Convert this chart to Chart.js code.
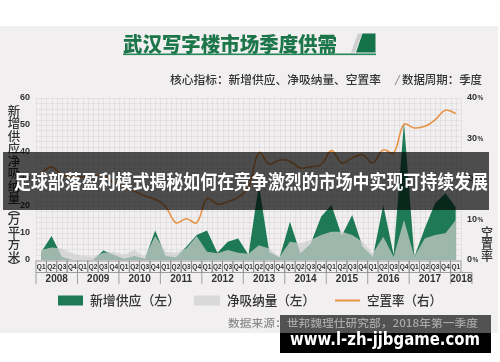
<!DOCTYPE html>
<html>
<head>
<meta charset="utf-8">
<script src="https://cdn.jsdelivr.net/npm/chart.js@4.4.1/dist/chart.umd.min.js"></script>
<style>
  html, body { margin: 0; padding: 0; background: #fff; overflow: hidden; }
  canvas { display: block; }
</style>
</head>
<body>
<canvas id="myChart" width="500" height="362"></canvas>
<script>
// data
const years = ['2008', '2009', '2010', '2011', '2012', '2013', '2014', '2015', '2016', '2017', '2018'];
const quarters = ['Q1', 'Q2', 'Q3', 'Q4'];

// 新增供应 (万平方米), 2008Q1 .. 2018Q1
const supply = [3, 8.9, 1.2, 0, 0, 0, 3.5, 1.9, 0.5, 1.5, 0.5, 10.9,
  1.5, 1, 4.9, 9.3, 10.9, 2.7, 6.8, 8, 1.9, 28, 3, 0.9,
  14.2, 2.5, 6, 16, 20.4, 9, 16.7, 5, 1.2, 20.4, 1.9, 51,
  1.2, 11.7, 21, 24.7, 19.5];
// 净吸纳量 (万平方米)
const absorption = [3.7, 4.6, 4.3, 2.5, 1.5, 1.2, 2.7, 3.1, 1.9, 3.7, 1.2, 8.9,
  3.1, 2.7, 4.3, 8.9, 3.1, 2.5, 3.7, 2.7, 2.3, 5.5, 4.3, 1.2,
  6.8, 6.2, 7.4, 9.3, 10.5, 10.5, 9.3, 6.8, 2.5, 8.6, 1.2, 14.8,
  1.2, 8, 9.3, 9.9, 14.8];
// 空置率 (%)
const vacancy = [21.5, 23, 21, 20.5, 20.5, 20.5, 21, 19, 18, 17, 15.8, 15,
  13.2, 9.2, 10.2, 9.2, 15.2, 13.8, 14.4, 15.5, 18, 26.5, 23.7, 24.7,
  24.4, 22.7, 23, 23.5, 27, 24, 25.2, 26, 24, 27.2, 26.4, 33.5,
  32.6, 33, 34.6, 37, 36.2];

const leftTicks = [0, 10, 20, 30, 40, 50, 60];
const rightTicks = [0, 10, 20, 30, 40];

const leftTitle = ['新', '增', '供', '应', '净', '吸', '纳', '量', '︵', '万', '平', '方', '米', '︶'];
const rightTitle = ['空', '置', '率'];

const labels = [];
years.forEach(function (yr) {
  let n = yr === '2018' ? 1 : 4;
  for (let q = 0; q < n; q++) labels.push(quarters[q]);
});

const GREEN = 'rgb(30,122,86)';
const GREY = 'rgba(206,206,206,0.72)';
const ORANGE = 'rgb(232,146,70)';
const CJK = '"Noto Sans CJK SC", "Noto Sans", sans-serif';
const NARROW = '"Liberation Sans Narrow", "Liberation Sans", sans-serif';

// draw text stretched/squeezed to a given width, starting at x
function fitText(ctx, text, x, y, width, font) {
  ctx.font = font;
  let w = ctx.measureText(text).width;
  ctx.save();
  ctx.translate(x, y);
  ctx.scale(width / w, 1);
  ctx.textAlign = 'left';
  ctx.fillText(text, 0, 0);
  ctx.restore();
}

const decor = {
  id: 'decor',
  beforeDraw(chart) {
    const ctx = chart.ctx;
    ctx.save();
    ctx.fillStyle = '#ffffff';
    ctx.fillRect(0, 0, 500, 362);
    ctx.fillStyle = '#f1eff0';
    ctx.fillRect(0, 26, 498, 307);

    // title
    ctx.fillStyle = 'rgb(28,118,74)';
    ctx.textBaseline = 'middle';
    fitText(ctx, '武汉写字楼市场季度供需', 123, 44, 214, '900 20px ' + CJK);
    ctx.fillStyle = 'rgb(40,135,90)';
    ctx.fillRect(123, 53.5, 253, 1.6);
    ctx.fillStyle = '#cfcfcf';
    ctx.beginPath();
    ctx.moveTo(358, 33.5); ctx.lineTo(362, 33.5); ctx.lineTo(355, 52.5); ctx.lineTo(351, 52.5);
    ctx.closePath(); ctx.fill();
    ctx.fillStyle = 'rgb(20,115,72)';
    ctx.beginPath();
    ctx.moveTo(362.5, 33.5); ctx.lineTo(375.5, 33.5); ctx.lineTo(375.5, 52.5); ctx.lineTo(356, 52.5);
    ctx.closePath(); ctx.fill();

    // subtitle
    ctx.fillStyle = '#333';
    fitText(ctx, '核心指标：新增供应、净吸纳量、空置率', 170, 80, 211, '500 11.5px ' + CJK);
    ctx.strokeStyle = '#888';
    ctx.lineWidth = 1;
    ctx.beginPath(); ctx.moveTo(395, 85); ctx.lineTo(400, 75); ctx.stroke();
    fitText(ctx, '数据周期：季度', 402, 80, 80, '500 11.5px ' + CJK);
    ctx.restore();
  },
  beforeDatasetsDraw(chart) {
    const ctx = chart.ctx, a = chart.chartArea;
    const y = chart.scales.y;
    const w = (a.right - a.left) / labels.length;
    ctx.save();
    ctx.strokeStyle = 'rgba(0,0,0,0.05)';
    ctx.lineWidth = 1;
    ctx.beginPath();
    for (let i = 0; i <= labels.length * 2; i++) {
      let x = Math.round(a.left + i * w / 2) + 0.5;
      ctx.moveTo(x, a.top); ctx.lineTo(x, a.bottom);
    }
    for (let v = 0; v <= 60; v += 2) {
      let py = Math.round(y.getPixelForValue(v)) + 0.5;
      ctx.moveTo(a.left, py); ctx.lineTo(a.right, py);
    }
    ctx.stroke();
    ctx.restore();
  },
  afterDatasetsDraw(chart) {
    const ctx = chart.ctx, a = chart.chartArea;
    const xs = chart.scales.x, y = chart.scales.y, y1 = chart.scales.y1;
    const w = (a.right - a.left) / labels.length;
    ctx.save();

    // quarter boxes
    ctx.strokeStyle = '#8a8a8a';
    ctx.lineWidth = 0.8;
    ctx.fillStyle = '#333';
    ctx.textAlign = 'center';
    ctx.textBaseline = 'middle';
    ctx.font = '600 6.5px ' + NARROW;
    labels.forEach(function (lab, i) {
      let cx = xs.getPixelForValue(i);
      ctx.strokeRect(cx - w / 2, 261, w, 11.5);
      ctx.fillText(lab, cx, 267);
    });

    // years and separators
    ctx.font = 'bold 10px ' + NARROW;
    ctx.beginPath();
    years.forEach(function (yr, k) {
      let x0 = xs.getPixelForValue(k * 4) - w / 2;
      let x1 = yr === '2018' ? a.right + 11 : x0 + 4 * w;
      ctx.fillText(yr, (x0 + x1) / 2, 279.5);
      ctx.moveTo(x0, 272.5); ctx.lineTo(x0, 284);
      if (yr === '2018') {
        ctx.moveTo(a.right, 272.5); ctx.lineTo(x1, 272.5); ctx.lineTo(x1, 284);
      }
    });
    ctx.stroke();

    // y tick labels
    ctx.font = 'bold 9px ' + NARROW;
    ctx.textAlign = 'right';
    leftTicks.forEach(function (v) {
      ctx.fillText(String(v), 30, y.getPixelForValue(v));
    });
    ctx.textAlign = 'left';
    rightTicks.forEach(function (v) {
      let py = y1.getPixelForValue(v);
      ctx.font = 'bold 9px ' + NARROW;
      let s = String(v);
      ctx.fillText(s, 467, py);
      let tw = ctx.measureText(s).width;
      ctx.font = 'bold 6.5px ' + NARROW;
      ctx.fillText('%', 467 + tw + 0.5, py + 0.5);
    });

    // axis titles
    ctx.textAlign = 'center';
    ctx.font = '500 12.5px ' + CJK;
    const leftY = [111, 123.5, 136, 148.5, 161, 173.5, 186, 198.5, 209, 219.5, 232, 244.5, 257, 266];
    leftTitle.forEach(function (ch, i) { ctx.fillText(ch, 14, leftY[i]); });
    ctx.font = '500 12px ' + CJK;
    rightTitle.forEach(function (ch, i) { ctx.fillText(ch, 487, 232 + i * 12); });

    // legend
    ctx.fillStyle = GREEN;
    ctx.fillRect(58, 295.5, 25, 10);
    ctx.fillStyle = '#d9d9d9';
    ctx.fillRect(194, 295.5, 26, 10);
    ctx.strokeStyle = ORANGE;
    ctx.lineWidth = 2;
    ctx.beginPath(); ctx.moveTo(335, 300.5); ctx.lineTo(360, 300.5); ctx.stroke();
    ctx.fillStyle = '#333';
    fitText(ctx, '新增供应（左）', 90, 300.5, 90, '500 13px ' + CJK);
    fitText(ctx, '净吸纳量（左）', 227, 300.5, 88, '500 13px ' + CJK);
    fitText(ctx, '空置率（右）', 367, 300.5, 75, '500 13px ' + CJK);

    // source
    ctx.fillStyle = '#8a8a8a';
    fitText(ctx, '数据来源：世邦魏理仕研究部，2018年第一季度', 228, 323, 250, '500 10.5px ' + CJK);
    ctx.restore();
  },
  afterDraw(chart) {
    const ctx = chart.ctx;
    ctx.save();
    // overlay banner
    ctx.fillStyle = 'rgba(0,0,0,0.68)';
    ctx.fillRect(3, 152, 486, 58);
    ctx.fillStyle = '#ffffff';
    ctx.textBaseline = 'middle';
    fitText(ctx, '足球部落盈利模式揭秘如何在竞争激烈的市场中实现可持续发展', 14, 182, 474, 'bold 19px ' + CJK);

    // watermark box
    ctx.fillStyle = 'rgb(82,82,82)';
    ctx.fillRect(280, 315, 211, 18);
    ctx.save();
    ctx.beginPath(); ctx.rect(280, 315, 211, 18); ctx.clip();
    ctx.fillStyle = '#a8a8a8';
    fitText(ctx, '数据来源：世邦魏理仕研究部，2018年第一季度', 228, 323, 250, '500 10.5px ' + CJK);
    ctx.restore();
    ctx.fillStyle = '#000';
    ctx.fillRect(280, 333, 211, 20);
    ctx.fillStyle = '#fff';
    ctx.textBaseline = 'alphabetic';
    fitText(ctx, 'www.l-zh-jjbgame.com', 290, 345, 190, 'bold 18px "DejaVu Sans", sans-serif');
    ctx.restore();
  }
};

const config = {
  type: 'line',
  data: {
    labels: labels,
    datasets: [
      {
        label: '空置率（右）',
        data: vacancy,
        yAxisID: 'y1',
        borderColor: ORANGE,
        borderWidth: 1.6,
        tension: 0.38,
        pointRadius: 0,
        fill: false
      },
      {
        label: '净吸纳量（左）',
        data: absorption,
        yAxisID: 'y',
        borderColor: 'rgba(0,0,0,0)',
        backgroundColor: GREY,
        borderWidth: 0,
        pointRadius: 0,
        tension: 0,
        fill: 'origin'
      },
      {
        label: '新增供应（左）',
        data: supply,
        yAxisID: 'y',
        borderColor: 'rgba(0,0,0,0)',
        backgroundColor: GREEN,
        borderWidth: 0,
        pointRadius: 0,
        tension: 0,
        fill: 'origin'
      }
    ]
  },
  options: {
    responsive: false,
    animation: false,
    layout: { padding: { left: 36, right: 39, top: 98, bottom: 102 } },
    plugins: {
      legend: { display: false },
      tooltip: { enabled: false }
    },
    scales: {
      x: { display: false, offset: true },
      y: { display: false, min: 0, max: 60 },
      y1: { display: false, min: 0, max: 40, position: 'right' }
    }
  },
  plugins: [decor]
};

const myChart = new Chart(document.getElementById('myChart'), config);
</script>
</body>
</html>
